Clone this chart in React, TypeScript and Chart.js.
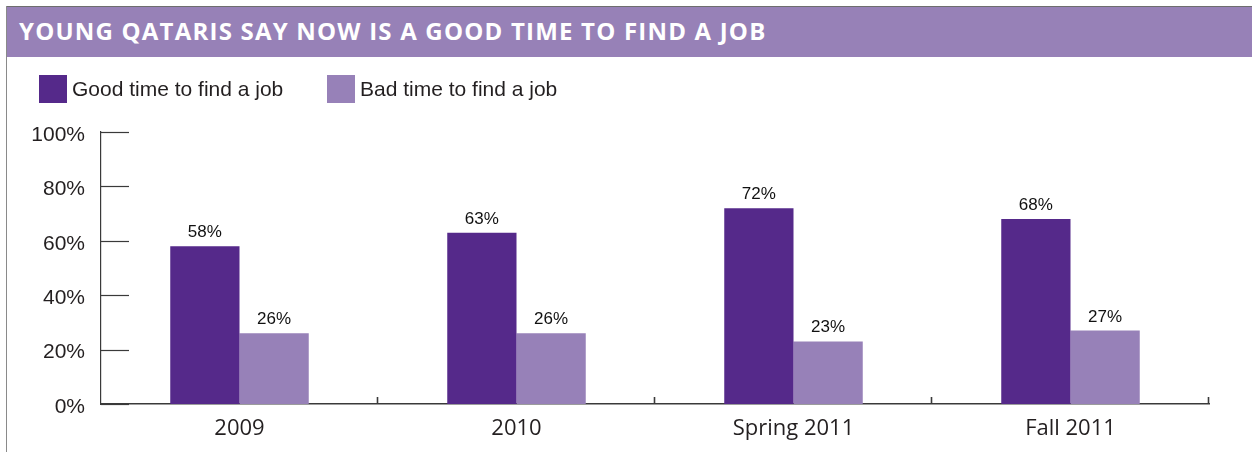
import React, { useEffect, useRef } from "react";
import { Chart, registerables } from "chart.js";

Chart.register(...registerables);

const titleText = "YOUNG QATARIS SAY NOW IS A GOOD TIME TO FIND A JOB";
const categories = ["2009", "2010", "Spring 2011", "Fall 2011"];
const seriesNames = ["Good time to find a job", "Bad time to find a job"];
const goodValues = [58, 63, 72, 68];
const badValues = [26, 26, 23, 27];
const yTicks = [0, 20, 40, 60, 80, 100];

const DARK = "#55298a";
const LIGHT = "#9781b8";
const HEADER = "#9781b7";
const AXIS = "#3a3a3a";
const TEXT = "#231f20";

const innerTicks = {
  id: "innerTicks",
  afterDraw(chart: any) {
    const { ctx, chartArea, scales } = chart;
    const y = scales.y;
    const x = scales.x;
    ctx.save();
    ctx.strokeStyle = AXIS;
    ctx.lineWidth = 1.2;
    yTicks.forEach((v) => {
      const py = Math.round(y.getPixelForValue(v)) + 0.5;
      ctx.beginPath();
      ctx.moveTo(chartArea.left, py);
      ctx.lineTo(chartArea.left + 28, py);
      ctx.stroke();
    });
    const n = categories.length;
    for (let i = 0; i < n; i++) {
      const bx =
        i < n - 1
          ? (x.getPixelForValue(i) + x.getPixelForValue(i + 1)) / 2
          : chartArea.right;
      const px = Math.round(bx) - 0.5;
      ctx.lineWidth = 1.6;
      ctx.beginPath();
      ctx.moveTo(px, chartArea.bottom);
      ctx.lineTo(px, chartArea.bottom - 7);
      ctx.stroke();
    }
    ctx.restore();
  },
};

const valueLabels = {
  id: "valueLabels",
  afterDatasetsDraw(chart: any) {
    const { ctx } = chart;
    ctx.save();
    ctx.font = '17px "Liberation Sans", Arial, sans-serif';
    ctx.fillStyle = "#111";
    ctx.textAlign = "center";
    ctx.textBaseline = "alphabetic";
    chart.data.datasets.forEach((ds: any, di: number) => {
      const meta = chart.getDatasetMeta(di);
      meta.data.forEach((bar: any, i: number) => {
        ctx.fillText(ds.data[i] + "%", bar.x, bar.y - 9);
      });
    });
    ctx.restore();
  },
};

export default function App() {
  const ref = useRef<HTMLCanvasElement | null>(null);

  useEffect(() => {
    if (!ref.current) return;
    const chart = new Chart(ref.current, {
      type: "bar",
      data: {
        labels: categories,
        datasets: [
          {
            label: seriesNames[0],
            data: goodValues,
            backgroundColor: DARK,
            categoryPercentage: 0.5,
            barPercentage: 1.0,
          },
          {
            label: seriesNames[1],
            data: badValues,
            backgroundColor: LIGHT,
            categoryPercentage: 0.5,
            barPercentage: 1.0,
          },
        ],
      },
      options: {
        responsive: false,
        animation: false,
        layout: { padding: { top: 132, left: 0, right: 43, bottom: 0 } },
        plugins: {
          legend: { display: false },
          title: { display: false },
          tooltip: { enabled: false },
        },
        scales: {
          x: {
            grid: { display: false },
            border: { display: true, color: AXIS, width: 1.6 },
            ticks: {
              color: TEXT,
              padding: 4,
              font: { family: '"Open Sans", sans-serif', size: 22 },
            },
            afterFit(scale: any) {
              scale.height = 48;
            },
          },
          y: {
            min: 0,
            max: 100,
            grid: { display: false },
            border: { display: true, color: AXIS, width: 1.2 },
            ticks: {
              stepSize: 20,
              color: TEXT,
              padding: 8,
              labelOffset: 3,
              font: { family: '"Liberation Sans", Arial, sans-serif', size: 21 },
              callback: (v: any) => v + "%",
            },
            afterFit(scale: any) {
              scale.width = 101;
            },
          },
        },
      },
      plugins: [innerTicks, valueLabels],
    });
    return () => chart.destroy();
  }, []);

  const legendText: React.CSSProperties = {
    position: "absolute",
    top: 75,
    height: 28,
    lineHeight: "28px",
    fontFamily: '"Liberation Sans", Arial, sans-serif',
    fontSize: 21,
    color: TEXT,
    whiteSpace: "nowrap",
  };

  return (
    <div
      style={{
        position: "absolute",
        left: 0,
        top: 0,
        width: 1252,
        height: 452,
        background: "#fff",
        overflow: "hidden",
      }}
    >
      <canvas
        ref={ref}
        width={1252}
        height={452}
        style={{ position: "absolute", left: 0, top: 0, width: 1252, height: 452 }}
      />
      <div style={{ position: "absolute", left: 6, top: 6, width: 1246, height: 1, background: "#6e6e6e" }} />
      <div style={{ position: "absolute", left: 6, top: 6, width: 1, height: 446, background: "#8a8a8a" }} />
      <div style={{ position: "absolute", left: 7, top: 7, width: 1245, height: 50, background: HEADER }} />
      <div
        style={{
          position: "absolute",
          left: 19,
          top: 16,
          height: 30,
          lineHeight: "30px",
          fontFamily: '"Open Sans", sans-serif',
          fontWeight: 700,
          fontSize: 24,
          letterSpacing: "1.2px",
          color: "#fff",
          whiteSpace: "nowrap",
        }}
      >
        {titleText}
      </div>
      <div style={{ position: "absolute", left: 39, top: 75, width: 28, height: 28, background: DARK }} />
      <div style={{ ...legendText, left: 72 }}>{seriesNames[0]}</div>
      <div style={{ position: "absolute", left: 327, top: 75, width: 28, height: 28, background: LIGHT }} />
      <div style={{ ...legendText, left: 360 }}>{seriesNames[1]}</div>
    </div>
  );
}
